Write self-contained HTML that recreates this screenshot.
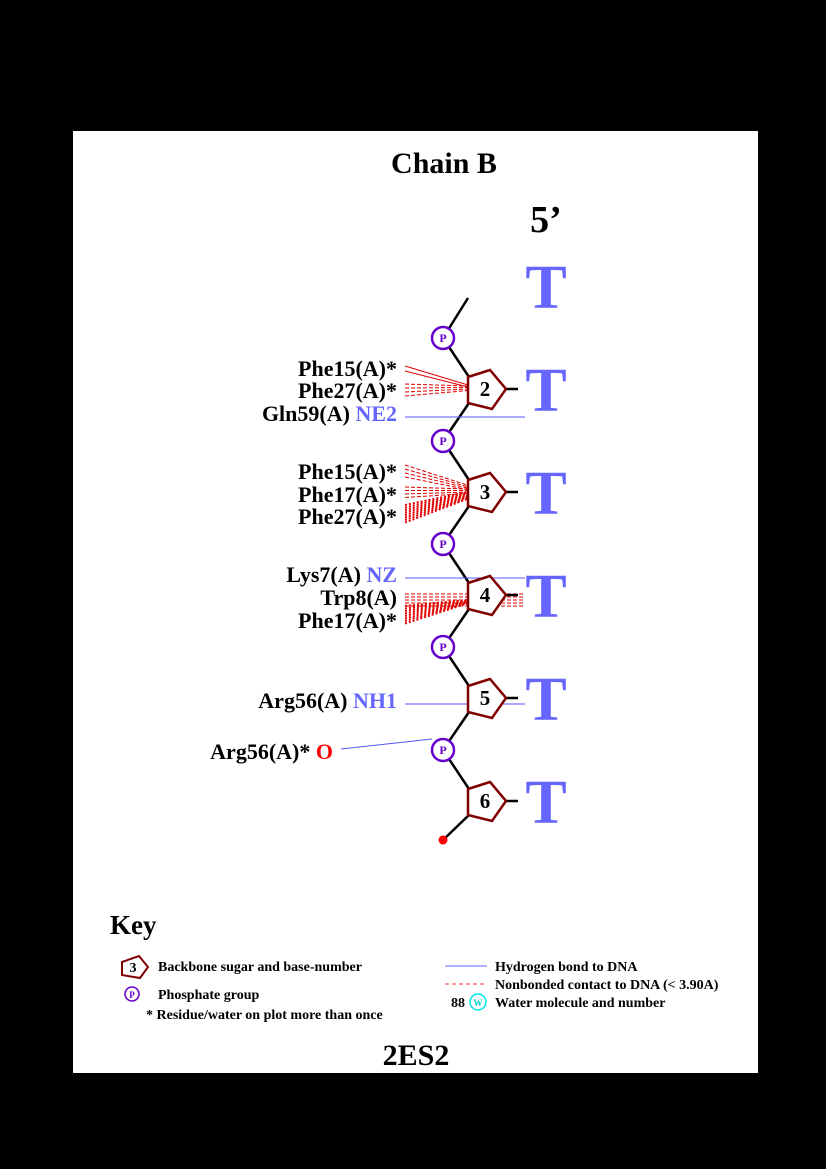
<!DOCTYPE html>
<html><head><meta charset="utf-8"><style>
html,body{margin:0;padding:0;background:#000;}
svg{display:block;font-family:"Liberation Serif",serif;}
svg text{font-weight:bold;}
</style></head><body>
<svg id="s" width="826" height="1169" viewBox="0 0 826 1169">
<rect x="73" y="131" width="685" height="942" fill="#fff"/>
<text x="444" y="173" font-size="30" text-anchor="middle">Chain B</text>
<text x="546" y="232" font-size="38" text-anchor="middle">5’</text>
<g id="g"></g>
<g>
<text x="110" y="934" font-size="27">Key</text>
<polygon points="122,962 139,956 148,967 140,978 122,975" fill="#fff" stroke="#800000" stroke-width="2"/>
<text x="133" y="972" font-size="14" text-anchor="middle">3</text>
<text x="158" y="971" font-size="14">Backbone sugar and base-number</text>
<circle cx="132" cy="994" r="7" fill="#fff" stroke="#6600cc" stroke-width="1.5"/>
<text x="132" y="998" font-size="9" fill="#6600cc" text-anchor="middle">P</text>
<text x="158" y="999" font-size="14">Phosphate group</text>
<text x="146" y="1019" font-size="14">* Residue/water on plot more than once</text>
<line x1="445" y1="966" x2="487" y2="966" stroke="#6666ff" stroke-width="1"/>
<text x="495" y="971" font-size="14">Hydrogen bond to DNA</text>
<line x1="445" y1="984" x2="487" y2="984" stroke="#ff3333" stroke-width="1" stroke-dasharray="4,3"/>
<text x="495" y="989" font-size="14">Nonbonded contact to DNA (&lt; 3.90A)</text>
<text x="465" y="1007" font-size="14" text-anchor="end">88</text>
<circle cx="478" cy="1002" r="8" fill="#fff" stroke="#00e5ee" stroke-width="1.5"/>
<text x="478" y="1006" font-size="9" fill="#00cccc" text-anchor="middle">W</text>
<text x="495" y="1007" font-size="14">Water molecule and number</text>
</g>
<text x="416" y="1065" font-size="30" text-anchor="middle">2ES2</text>
</svg>
<script>
const baseNumbers=[1,2,3,4,5,6];
const baseLetters=["T","T","T","T","T","T"];
const labels=[["Phe15(A)*","",369],["Phe27(A)*","",391],["Gln59(A)","NE2",414],["Phe15(A)*","",472],["Phe17(A)*","",495],["Phe27(A)*","",517],["Lys7(A)","NZ",575],["Trp8(A)","",598],["Phe17(A)*","",621],["Arg56(A)","NH1",701],["Arg56(A)*","O",752]];
const NS="http://www.w3.org/2000/svg";
const g=document.getElementById('g');
function mk(t,a,p){const e=document.createElementNS(NS,t);for(const k in a)e.setAttribute(k,a[k]);(p||g).appendChild(e);return e;}
const y0=286,step=103;
function sy(i){return y0+i*step;}
mk('line',{x1:468,y1:298,x2:443,y2:338,stroke:'#000','stroke-width':2.5});
for(let i=1;i<baseNumbers.length;i++){
  const y=sy(i);
  const py=y-51;
  mk('line',{x1:443,y1:py,x2:469,y2:y-12,stroke:'#000','stroke-width':2.5});
  if(i<baseNumbers.length-1) mk('line',{x1:469,y1:y+14,x2:443,y2:y+52,stroke:'#000','stroke-width':2.5});
}
const last=sy(baseNumbers.length-1);
mk('line',{x1:469,y1:last+14,x2:443,y2:last+39,stroke:'#000','stroke-width':2.5});
const dot=mk('circle',{cx:443,cy:last+39,r:4.5,fill:'#ff0000'});


function line(x1,y1,x2,y2,c,d,w){mk('line',{x1,y1,x2,y2,stroke:c,'stroke-width':w||1,'stroke-dasharray':d});}
const HB='#5555ff';
line(405,366,468,385,'#e00000','none');line(405,371,468,387,'#e00000','none');
for(let k=0;k<4;k++)line(405,384+k*4,468,386+k*1.5,'#e00000','4,2');
line(405,417,525,417,HB,'none');
for(let k=0;k<4;k++)line(405,465+k*4,467,485+k*1.5,'#e00000','4,2');
for(let k=0;k<4;k++)line(405,487+k*3.5,467,489+k*1.5,'#e00000','4,2');
for(let k=0;k<8;k++)line(405,505+k*2.5,467,492+k*1,'#e00000','2,2',2);
line(405,578,525,578,HB,'none');
for(let k=0;k<5;k++)line(405,594+k*3,525,594+k*3,'#e00000','4,2');
for(let k=0;k<8;k++)line(405,606+k*2.5,467,600+k*0.5,'#e00000','2,2',2);
line(405,704,525,704,HB,'none');
line(341,749,432,739,HB,'none');
for(let i=1;i<baseNumbers.length;i++){
  const y=sy(i);
  const grp=mk('g',{});
  
  
  const py=y-51;
  mk('circle',{cx:443,cy:py,r:11,fill:'#fff',stroke:'#6600cc','stroke-width':2.5},grp);
  const pt=mk('text',{x:443,y:py+4,'font-size':12,fill:'#6600cc','text-anchor':'middle'},grp);pt.textContent='P';
  mk('line',{x1:506,y1:y,x2:518,y2:y,stroke:'#000','stroke-width':2.5},grp);
  mk('polygon',{points:`468,${y-12} 490,${y-19} 506,${y} 492,${y+20} 468,${y+14}`,fill:'#fff',stroke:'#800000','stroke-width':2.5},grp);
  const nt=mk('text',{x:485,y:y+7,'font-size':21,'text-anchor':'middle'},grp);nt.textContent=baseNumbers[i];
}
for(let i=0;i<baseLetters.length;i++){
  const t=mk('text',{x:546,y:sy(i)+22,'font-size':62,fill:'#6666ff','text-anchor':'middle'});
  t.textContent=baseLetters[i];
  
  
}
labels.forEach(([r,a,y],i)=>{
  const t=mk('text',{x:(a==='O'?333:397),y:y+7,'font-size':22,'text-anchor':'end'});
  const s1=document.createElementNS(NS,'tspan');s1.textContent=r;t.appendChild(s1);
  if(a){const s2=document.createElementNS(NS,'tspan');s2.textContent=' '+a;s2.setAttribute('fill',a==='O'?'#ff0000':'#6666ff');t.appendChild(s2);}
  
  
});
</script>
</body></html>
